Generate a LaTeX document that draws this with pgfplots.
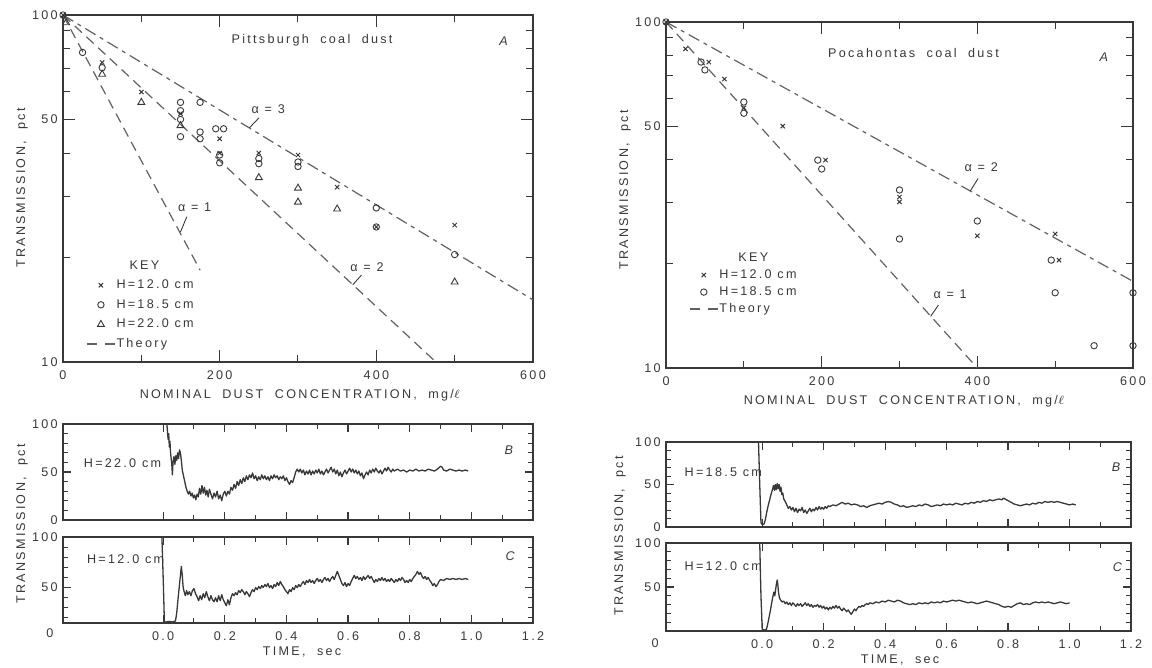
\documentclass[border=0pt]{standalone}
\usepackage{pgfplots}
\pgfplotsset{compat=1.18}
\usepackage{fontspec}
\setmainfont{Liberation Sans}[LetterSpace=18]
\newcommand\fs{\fontsize{6.3}{7.5}\selectfont}
\definecolor{ink}{gray}{0.22}
\definecolor{ln}{gray}{0.38}
\tikzset{
  trace/.style={ink, line width=0.65pt, line join=round},
  mX/.style={only marks, mark=x, mark size=1.5pt, ink, mark options={line width=0.5pt}},
  mO/.style={only marks, mark=o, mark size=1.6pt, ink, mark options={line width=0.45pt}},
  mT/.style={only marks, mark=triangle, mark size=2.0pt, ink, mark options={line width=0.45pt}},
  th/.style={ln, line width=0.6pt, dash pattern=on 5pt off 3pt},
  thd/.style={ln, line width=0.6pt, dash pattern=on 6pt off 2.5pt on 2pt off 2.5pt},
  lead/.style={ink, line width=0.45pt},
}
\pgfplotsset{
  legend image code/.code={\draw[mark repeat=2,mark phase=2,#1] plot coordinates {(0pt,0pt) (7pt,0pt) (14pt,0pt)};},
  every axis/.append style={scale only axis, anchor=north west, clip=false,
    axis line style={ink, line width=0.6pt},
    xtick pos=both, ytick pos=both, xtick align=inside, ytick align=inside,
    major tick style={draw=ink, line width=0.6pt}, minor tick style={draw=ink, line width=0.5pt},
    font=\fs, ticklabel style={font=\fs, text=ink},
    xticklabel style={inner sep=0pt, yshift=-4.3pt},
    yticklabel style={inner sep=0pt, xshift=-2.5pt}},
}
\begin{document}
\begin{tikzpicture}
\path[use as bounding box] (0,0) rectangle (576pt,-334pt);

% ---------------- Top left: Pittsburgh ----------------
\begin{axis}[at={(31.5pt,-7.5pt)}, width=235pt, height=173.5pt,
  xmin=0, xmax=600, ymode=log, ymin=10, ymax=100,
  xtick={0,200,400,600}, xticklabels={0,200,400,600}, minor xtick={100,300,500},
  ytick={10,50,100}, yticklabels={10,50,100}, minor ytick={20,30,40,60,70,80,90},
  major tick length=6pt, minor tick length=3.5pt, legend cell align=left,
  legend style={draw=none, fill=none, at={(0.036,0.31)}, anchor=north west, font=\fs, text=ink,
    row sep=3.0pt, nodes={inner sep=0.5pt, text height=4.6pt, text depth=1.2pt}}]
\addplot[th, forget plot] coordinates {(0,100) (175,18.4)};
\addplot[th, forget plot] coordinates {(0,100) (476,10)};
\addplot[thd, forget plot] coordinates {(0,100) (600,15.1)};
\addplot[mX, forget plot] coordinates {(0,100) (50,73) (100,60) (150,52) (200,44) (200,40) (250,40) (300,39.5) (350,31.9) (400,24.5) (500,24.8)};
\addplot[mO, forget plot] coordinates {(0,100) (25,78) (50,70.5) (150,56) (150,53) (150,50) (150,44.6) (175,56) (175,46) (175,44) (195,47) (205,47) (200,39.5) (200,37.5) (250,38.6) (250,37.3) (300,37.7) (300,36.6) (400,27.8) (400,24.5) (500,20.4)};
\addplot[mT, forget plot] coordinates {(4,95) (50,67.5) (100,56) (150,48) (250,34) (300,31.7) (300,28.9) (350,27.6) (500,17)};
\addlegendimage{empty legend}\addlegendentry{\hspace*{6.5pt}KEY}
\addlegendimage{mX}\addlegendentry{H=12.0 cm}
\addlegendimage{mO}\addlegendentry{H=18.5 cm}
\addlegendimage{mT}\addlegendentry{H=22.0 cm}
\addlegendimage{ln, line width=0.6pt, dash pattern=on 5pt off 4pt}\addlegendentry{Theory}
\node[text=ink] at (axis cs:318,84.7) {Pittsburgh\ \ coal\ \ dust};
\node[text=ink] at (axis cs:564,84) {\textit{A}};
\node[text=ink] at (axis cs:262,53.5) {α = 3};
\draw[lead] (axis cs:250,50.5) -- (axis cs:238,47.3);
\node[text=ink] at (axis cs:168,28) {α = 1};
\draw[lead] (axis cs:158,26.2) -- (axis cs:150,23.7);
\node[text=ink] at (axis cs:388,18.8) {α = 2};
\draw[lead] (axis cs:381,17.8) -- (axis cs:370,16.7);
\end{axis}

% ---------------- Top right: Pocahontas ----------------
\begin{axis}[at={(333pt,-11pt)}, width=233.5pt, height=173pt,
  xmin=0, xmax=600, ymode=log, ymin=10, ymax=100,
  xtick={0,200,400,600}, xticklabels={0,200,400,600}, minor xtick={100,300,500},
  ytick={10,50,100}, yticklabels={10,50,100}, minor ytick={20,30,40,60,70,80,90},
  major tick length=6pt, minor tick length=3.5pt, legend cell align=left,
  legend style={draw=none, fill=none, at={(0.036,0.35)}, anchor=north west, font=\fs, text=ink,
    row sep=1.7pt, nodes={inner sep=0.5pt, text height=4.6pt, text depth=1.2pt}}]
\addplot[th, forget plot] coordinates {(0,100) (400,10)};
\addplot[thd, forget plot] coordinates {(0,100) (600,17.8)};
\addplot[mX, forget plot] coordinates {(0,100) (25,83.6) (55,76.6) (75,68.4) (100,56.5) (150,50) (205,39.9) (300,31.2) (300,30.2) (400,24.1) (500,24.4) (505,20.5)};
\addplot[mO, forget plot] coordinates {(0,100) (45,76.6) (50,72.7) (100,58.7) (100,54.5) (195,39.9) (200,37.6) (300,32.7) (300,23.6) (400,26.6) (495,20.5) (500,16.5) (550,11.6) (600,11.6) (600,16.5)};
\addlegendimage{empty legend}\addlegendentry{\hspace*{9.5pt}KEY}
\addlegendimage{mX}\addlegendentry{H=12.0 cm}
\addlegendimage{mO}\addlegendentry{H=18.5 cm}
\addlegendimage{ln, line width=0.6pt, dash pattern=on 5pt off 4pt}\addlegendentry{Theory}
\node[text=ink] at (axis cs:318,81.5) {Pocahontas\ \ coal\ \ dust};
\node[text=ink] at (axis cs:564,79) {\textit{A}};
\node[text=ink] at (axis cs:405,38) {α = 2};
\draw[lead] (axis cs:401,35.3) -- (axis cs:391,32.5);
\node[text=ink] at (axis cs:365,16.3) {α = 1};
\draw[lead] (axis cs:350,15.2) -- (axis cs:340,14.1);
\end{axis}

% ---------------- Left B ----------------
\begin{axis}[at={(31.5pt,-212pt)}, width=235pt, height=48pt, xmin=-0.325, xmax=1.2,
  ymin=0, ymax=100,
  xtick={0,0.2,0.4,0.6,0.8,1.0,1.2}, minor xtick={0.1,0.3,0.5,0.7,0.9,1.1},
  ytick={0,50,100}, yticklabels={0,50,100}, minor ytick={10,20,30,40,60,70,80,90},
  xticklabels={}, major tick length=4pt, minor tick length=2.5pt]
\addplot[trace] coordinates {(-0.325,100) (0.012,100) (0.014,92) (0.016,84) (0.018,90) (0.020,76) (0.022,82) (0.024,70) (0.026,64) (0.028,58) (0.030,47) (0.032,60) (0.035,66) (0.038,58) (0.041,67) (0.044,62) (0.047,70) (0.050,64) (0.053,73) (0.056,70) (0.059,62) (0.062,52) (0.066,46) (0.070,40) (0.074,34) (0.078,30) (0.082,27) (0.086,30) (0.090,25) (0.094,28) (0.098,23) (0.102,26) (0.106,21) (0.110,27) (0.114,24) (0.118,33) (0.122,27) (0.126,36) (0.130,28) (0.134,34) (0.138,26) (0.142,31) (0.146,24) (0.150,32) (0.155,27) (0.160,22) (0.165,28) (0.170,24) (0.175,30) (0.180,22) (0.185,26) (0.190,20) (0.195,27) (0.200,30) (0.205,25) (0.210,30) (0.215,27) (0.220,34) (0.225,31) (0.230,37) (0.235,33) (0.240,40) (0.245,36) (0.250,42) (0.255,38) (0.260,44) (0.265,40) (0.270,46) (0.275,42) (0.280,47) (0.285,44) (0.290,49) (0.295,43) (0.300,46) (0.305,41) (0.310,45) (0.315,42) (0.320,47) (0.325,43) (0.330,46) (0.335,42) (0.340,45) (0.345,41) (0.350,46) (0.355,43) (0.360,47) (0.365,44) (0.370,46) (0.375,42) (0.380,45) (0.385,43) (0.390,46) (0.395,41) (0.400,44) (0.405,40) (0.410,37) (0.415,41) (0.420,39) (0.425,44) (0.430,50) (0.435,53) (0.440,50) (0.445,53) (0.45,49) (0.455,52) (0.46,47) (0.465,51) (0.47,48) (0.475,52) (0.48,47) (0.485,51) (0.49,48) (0.495,52) (0.50,49) (0.505,53) (0.51,48) (0.515,51) (0.52,47) (0.525,50) (0.53,53) (0.535,49) (0.54,52) (0.545,55) (0.55,50) (0.555,53) (0.56,48) (0.565,52) (0.57,46) (0.575,50) (0.58,45) (0.585,49) (0.59,52) (0.595,48) (0.60,51) (0.605,54) (0.61,50) (0.615,53) (0.62,49) (0.625,52) (0.63,48) (0.635,51) (0.64,46) (0.645,49) (0.65,43) (0.655,47) (0.66,50) (0.665,47) (0.67,52) (0.675,49) (0.68,53) (0.685,50) (0.69,54) (0.695,51) (0.70,49) (0.705,52) (0.71,48) (0.715,51) (0.72,54) (0.725,51) (0.73,55) (0.735,52) (0.74,50) (0.745,53) (0.75,51) (0.76,53) (0.77,51) (0.78,52) (0.79,50) (0.80,52) (0.81,51) (0.82,53) (0.83,51) (0.84,52) (0.85,51) (0.86,53) (0.87,52) (0.88,51) (0.89,53) (0.90,56) (0.905,55) (0.91,52) (0.92,51) (0.93,53) (0.94,52) (0.95,51) (0.96,52) (0.97,51) (0.98,52) (0.99,51)};
\node[text=ink, anchor=west] at (axis cs:-0.28,59) {H=22.0 cm};
\node[text=ink] at (axis cs:1.125,73) {\textit{B}};
\end{axis}

% ---------------- Left C ----------------
\begin{axis}[at={(31.5pt,-268.5pt)}, width=235pt, height=43pt, xmin=-0.325, xmax=1.2, ymin=15, ymax=100,
  xtick={0,0.2,0.4,0.6,0.8,1.0,1.2}, minor xtick={0.1,0.3,0.5,0.7,0.9,1.1},
  ytick={50,100}, yticklabels={50,100}, minor ytick={20,30,40,60,70,80,90},
  xticklabels={0.0,0.2,0.4,0.6,0.8,1.0,1.2}, major tick length=4pt, minor tick length=2.5pt]
\addplot[trace] coordinates {(-0.325,100) (-0.004,100) (0.0,60) (0.004,16) (0.01,16) (0.02,16.5) (0.03,16) (0.04,17) (0.044,25) (0.048,38) (0.052,50) (0.056,62) (0.059,71) (0.062,62) (0.065,50) (0.068,46) (0.072,42) (0.076,47) (0.080,43) (0.085,46) (0.09,42) (0.095,47) (0.10,49) (0.105,44) (0.11,41) (0.115,37) (0.12,42) (0.125,38) (0.13,44) (0.135,40) (0.14,46) (0.145,41) (0.15,37) (0.155,42) (0.16,38) (0.165,36) (0.17,40) (0.175,36) (0.18,42) (0.185,37) (0.19,43) (0.195,38) (0.20,35) (0.205,32) (0.21,38) (0.215,33) (0.22,40) (0.225,44) (0.23,42) (0.235,45) (0.24,43) (0.245,47) (0.25,45) (0.255,48) (0.26,46) (0.265,43) (0.27,46) (0.275,44) (0.28,41) (0.285,45) (0.29,48) (0.295,46) (0.30,50) (0.305,48) (0.31,51) (0.315,49) (0.32,52) (0.325,50) (0.33,53) (0.335,51) (0.34,54) (0.345,50) (0.35,52) (0.355,49) (0.36,53) (0.365,51) (0.37,55) (0.375,52) (0.38,56) (0.385,53) (0.39,51) (0.395,48) (0.40,46) (0.405,44) (0.41,48) (0.415,46) (0.42,50) (0.425,48) (0.43,52) (0.435,50) (0.44,53) (0.445,51) (0.45,54) (0.455,56) (0.46,53) (0.465,57) (0.47,55) (0.475,58) (0.48,55) (0.485,57) (0.49,54) (0.495,57) (0.50,59) (0.505,56) (0.51,58) (0.515,55) (0.52,58) (0.525,60) (0.53,57) (0.535,59) (0.54,56) (0.545,59) (0.55,61) (0.555,58) (0.56,62) (0.565,66) (0.57,62) (0.575,58) (0.58,54) (0.585,52) (0.59,55) (0.595,51) (0.60,54) (0.605,52) (0.61,56) (0.615,59) (0.62,62) (0.625,59) (0.63,61) (0.635,58) (0.64,60) (0.645,57) (0.65,61) (0.655,58) (0.66,60) (0.665,62) (0.67,59) (0.675,61) (0.68,58) (0.685,55) (0.69,58) (0.695,56) (0.70,59) (0.705,57) (0.71,60) (0.715,57) (0.72,59) (0.725,56) (0.73,58) (0.735,56) (0.74,59) (0.745,57) (0.75,55) (0.755,58) (0.76,56) (0.765,59) (0.77,57) (0.775,60) (0.78,58) (0.785,55) (0.79,57) (0.795,55) (0.80,58) (0.805,56) (0.81,59) (0.815,61) (0.82,63) (0.825,66) (0.83,63) (0.835,65) (0.84,61) (0.845,59) (0.85,61) (0.855,58) (0.86,60) (0.865,57) (0.87,55) (0.875,52) (0.88,54) (0.885,51) (0.89,53) (0.895,56) (0.90,58) (0.91,57) (0.92,59) (0.93,58) (0.94,59) (0.95,58) (0.96,59) (0.97,58) (0.98,59) (0.99,58)};
\node[text=ink, anchor=west] at (axis cs:-0.27,78) {H=12.0 cm};
\node[text=ink] at (axis cs:1.13,81) {\textit{C}};
\end{axis}

% ---------------- Right B ----------------
\begin{axis}[at={(333pt,-221pt)}, width=232.5pt, height=42.5pt, xmin=-0.313, xmax=1.2,
  ymin=0, ymax=100,
  xtick={0,0.2,0.4,0.6,0.8,1.0,1.2}, minor xtick={0.1,0.3,0.5,0.7,0.9,1.1},
  ytick={0,50,100}, yticklabels={0,50,100}, minor ytick={10,20,30,40,60,70,80,90},
  xticklabels={}, major tick length=4pt, minor tick length=2.5pt]
\addplot[trace] coordinates {(-0.313,100) (-0.012,100) (-0.008,50) (-0.004,5) (0.0,3) (0.005,3) (0.01,8) (0.015,18) (0.02,26) (0.025,33) (0.03,40) (0.034,45) (0.037,49) (0.04,43) (0.043,50) (0.046,44) (0.049,51) (0.052,45) (0.055,50) (0.058,42) (0.061,47) (0.064,38) (0.067,40) (0.07,33) (0.075,30) (0.08,26) (0.085,22) (0.09,24) (0.095,20) (0.10,23) (0.105,18) (0.11,22) (0.115,17) (0.12,21) (0.125,19) (0.13,23) (0.135,17) (0.14,20) (0.145,16) (0.15,19) (0.155,22) (0.16,18) (0.165,21) (0.17,19) (0.175,23) (0.18,20) (0.185,24) (0.19,21) (0.195,23) (0.20,21) (0.205,24) (0.21,22) (0.215,25) (0.22,24) (0.23,26) (0.24,25) (0.25,27) (0.26,29) (0.27,27) (0.28,28) (0.29,26) (0.30,27) (0.31,26) (0.32,24) (0.33,25) (0.34,23) (0.35,25) (0.36,26) (0.37,27) (0.38,28) (0.39,27) (0.40,29) (0.41,30) (0.42,29) (0.43,27) (0.44,26) (0.45,24) (0.46,25) (0.47,23) (0.48,24) (0.49,25) (0.50,24) (0.51,26) (0.52,25) (0.53,27) (0.54,26) (0.55,24) (0.56,25) (0.57,26) (0.58,25) (0.59,27) (0.60,26) (0.61,27) (0.62,26) (0.63,28) (0.64,27) (0.65,26) (0.66,28) (0.67,27) (0.68,29) (0.69,28) (0.70,30) (0.71,29) (0.72,31) (0.73,30) (0.74,32) (0.75,31) (0.76,32) (0.77,33) (0.78,32) (0.785,34) (0.79,33) (0.80,31) (0.81,29) (0.82,27) (0.83,26) (0.84,25) (0.85,26) (0.86,27) (0.87,26) (0.88,28) (0.89,27) (0.90,29) (0.91,28) (0.92,30) (0.93,29) (0.94,30) (0.95,29) (0.96,30) (0.97,29) (0.98,28) (0.99,27) (1.00,26) (1.01,27) (1.02,26)};
\node[text=ink, anchor=west] at (axis cs:-0.275,65) {H=18.5 cm};
\node[text=ink] at (axis cs:1.155,70) {\textit{B}};
\end{axis}

% ---------------- Right C ----------------
\begin{axis}[at={(333pt,-271.5pt)}, width=232.5pt, height=44pt, xmin=-0.313, xmax=1.2,
  ymin=0, ymax=100,
  xtick={0,0.2,0.4,0.6,0.8,1.0,1.2}, minor xtick={0.1,0.3,0.5,0.7,0.9,1.1},
  ytick={50,100}, yticklabels={50,100}, minor ytick={10,20,30,40,60,70,80,90},
  xticklabels={0.0,0.2,0.4,0.6,0.8,1.0,1.2}, major tick length=4pt, minor tick length=2.5pt]
\addplot[trace] coordinates {(-0.313,100) (-0.008,100) (-0.004,40) (0.0,2) (0.008,1) (0.014,2) (0.018,8) (0.022,15) (0.026,22) (0.03,30) (0.034,38) (0.038,44) (0.041,40) (0.044,48) (0.047,55) (0.049,58) (0.051,52) (0.053,44) (0.056,38) (0.06,35) (0.065,33) (0.07,34) (0.075,31) (0.08,33) (0.085,30) (0.09,32) (0.095,29) (0.10,32) (0.105,30) (0.11,28) (0.115,31) (0.12,29) (0.125,31) (0.13,28) (0.135,30) (0.14,32) (0.145,29) (0.15,31) (0.155,28) (0.16,30) (0.165,27) (0.17,29) (0.175,28) (0.18,30) (0.185,27) (0.19,29) (0.195,26) (0.20,28) (0.205,25) (0.21,27) (0.215,24) (0.22,27) (0.225,25) (0.23,28) (0.235,26) (0.24,29) (0.245,26) (0.25,28) (0.255,25) (0.26,23) (0.265,26) (0.27,24) (0.275,22) (0.28,24) (0.285,21) (0.29,19) (0.295,22) (0.30,25) (0.305,23) (0.31,26) (0.315,28) (0.32,27) (0.325,29) (0.33,28) (0.335,30) (0.34,31) (0.345,30) (0.35,32) (0.36,31) (0.37,33) (0.38,32) (0.39,34) (0.40,33) (0.41,35) (0.42,34) (0.43,33) (0.44,35) (0.45,34) (0.46,32) (0.47,31) (0.48,30) (0.49,31) (0.50,30) (0.51,32) (0.52,31) (0.53,32) (0.54,31) (0.55,33) (0.56,32) (0.57,33) (0.58,32) (0.59,34) (0.60,33) (0.61,34) (0.62,35) (0.63,34) (0.64,35) (0.65,34) (0.66,33) (0.67,32) (0.68,33) (0.69,32) (0.70,31) (0.71,32) (0.72,33) (0.73,34) (0.74,33) (0.75,32) (0.76,31) (0.77,30) (0.78,28) (0.79,27) (0.80,28) (0.81,27) (0.82,29) (0.83,31) (0.84,32) (0.85,30) (0.86,31) (0.87,30) (0.88,32) (0.89,33) (0.90,32) (0.91,33) (0.92,32) (0.93,33) (0.94,32) (0.95,31) (0.96,32) (0.97,33) (0.98,32) (0.99,31) (1.00,32)};
\node[text=ink, anchor=west] at (axis cs:-0.275,74) {H=12.0 cm};
\node[text=ink] at (axis cs:1.16,72) {\textit{C}};
\end{axis}

% ---------------- free labels ----------------
\begin{scope}[every node/.style={font=\fs, text=ink}]
\node[rotate=90] at (11pt,-94pt) {TRANSMISSION,\ \ pct};
\node[rotate=90] at (312.5pt,-95pt) {TRANSMISSION,\ \ pct};
\node[rotate=90] at (11pt,-262pt) {TRANSMISSION,\ \ pct};
\node[rotate=90] at (310pt,-268pt) {TRANSMISSION,\ \ pct};
\node at (150pt,-197.5pt) {NOMINAL\ \ DUST\ \ CONCENTRATION,\ \ mg/$\ell$};
\node at (452pt,-200.5pt) {NOMINAL\ \ DUST\ \ CONCENTRATION,\ \ mg/$\ell$};
\node at (151pt,-326pt) {TIME,\ \ sec};
\node at (450pt,-330pt) {TIME,\ \ sec};
\node at (25pt,-316.5pt) {0};
\node at (327.5pt,-321.5pt) {0};
\end{scope}
\end{tikzpicture}
\end{document}
